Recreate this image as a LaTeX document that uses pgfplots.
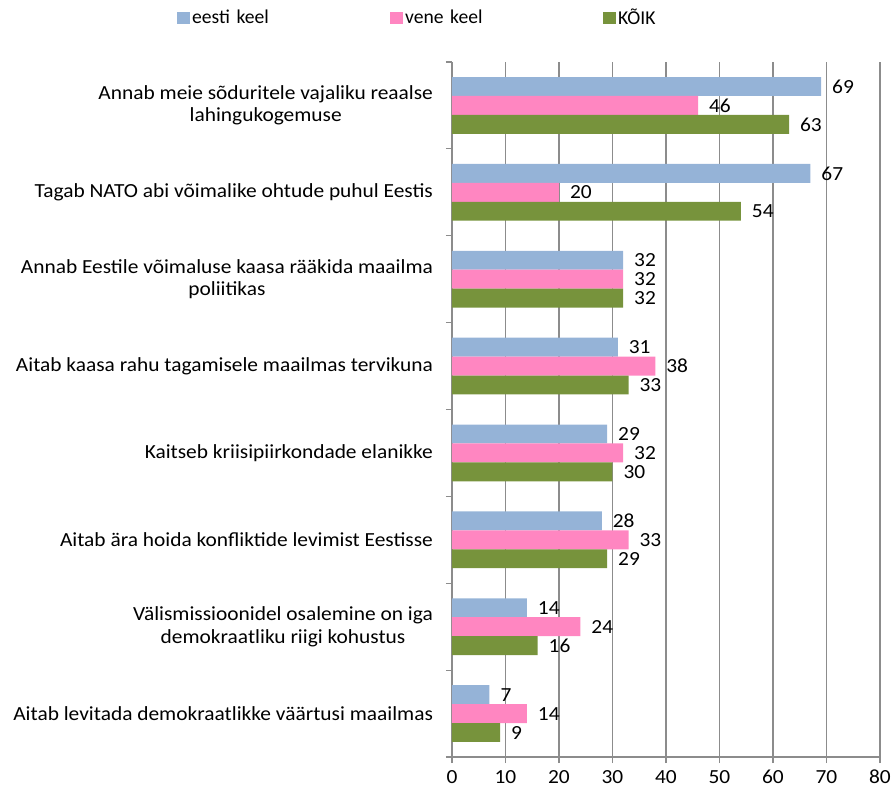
\documentclass[border=0pt]{standalone}
\usepackage{fontspec}
\setmainfont{Carlito}
\newfontfamily\ylfam{Carlito}[FakeStretch=1.07]
\usepackage{pgfplots}
\pgfplotsset{compat=1.18}
\definecolor{cblue}{HTML}{95B3D7}
\definecolor{cpink}{HTML}{FF86C1}
\definecolor{cgreen}{HTML}{77933C}
\definecolor{gridgray}{HTML}{8C8C8C}
\newcommand{\lf}{\ylfam\fontsize{10}{11}\selectfont}
\newcommand{\ylf}{\ylfam\fontsize{10}{11.2}\selectfont}
\newcommand{\lgf}{\fontsize{9.8}{11}\selectfont}
\begin{document}
\begin{tikzpicture}
\path[use as bounding box] (-226pt,-16pt) rectangle (219.5pt,378.5pt);
\begin{axis}[
 at={(0,0)}, anchor=south west,
 scale only axis, width=214pt, height=347.5pt,
 xbar=0pt, bar width=0.218,
 xmin=0, xmax=80, xtick={0,10,...,80},
 ymin=-0.5, ymax=7.5, y dir=reverse,
 ytick={-0.5,0.5,...,7.5},
 yticklabels={,,,,,,,,,},
 extra y ticks={0,1,2,3,4,5,6,7},
 extra y tick labels={{Annab meie sõduritele vajaliku reaalse\\lahingukogemuse},
   {Tagab NATO abi võimalike ohtude puhul Eestis},
   {Annab Eestile võimaluse kaasa rääkida maailma\\poliitikas},
   {Aitab kaasa rahu tagamisele maailmas tervikuna},
   {Kaitseb kriisipiirkondade elanikke},
   {Aitab ära hoida konfliktide levimist Eestisse},
   {Välismissioonidel osalemine on iga\\demokraatliku riigi kohustus},
   {Aitab levitada demokraatlikke väärtusi maailmas}},
 extra y tick style={major tick length=0pt},
 yticklabel style={align=center, font=\ylf},
 y tick label style={xshift=-6pt},
 axis x line*=bottom, axis y line*=left,
 axis line style={gridgray, line width=0.6pt},
 tick style={gridgray, line width=0.6pt},
 tick align=outside, major tick length=3pt,
 xmajorgrids, major grid style={gridgray, line width=0.6pt},
 /pgf/number format/assume math mode=true,
 xticklabel style={font=\lf},
 nodes near coords,
 nodes near coords style={font=\lf, black, anchor=west, xshift=2pt},
 legend columns=3,
 legend style={draw=none, fill=none, at={(-0.657,1.063)}, anchor=west,
   /tikz/every even column/.append style={column sep=0pt},
   nodes={inner sep=1pt, text width=98pt, align=left, font=\lgf}},
]
\addplot[fill=cblue, draw=none, legend image code/.code={\fill[cblue] (0pt,-3pt) rectangle (6.5pt,3pt);}]
 coordinates {(69,0) (67,1) (32,2) (31,3) (29,4) (28,5) (14,6) (7,7)};
\addplot[fill=cpink, draw=none, legend image code/.code={\fill[cpink] (0pt,-3pt) rectangle (6.5pt,3pt);}]
 coordinates {(46,0) (20,1) (32,2) (38,3) (32,4) (33,5) (24,6) (14,7)};
\addplot[fill=cgreen, draw=none, legend image code/.code={\fill[cgreen] (0pt,-3pt) rectangle (6.5pt,3pt);}]
 coordinates {(63,0) (54,1) (32,2) (33,3) (30,4) (29,5) (16,6) (9,7)};
\legend{eesti keel, vene keel, KÕIK}
\end{axis}
\end{tikzpicture}
\end{document}
